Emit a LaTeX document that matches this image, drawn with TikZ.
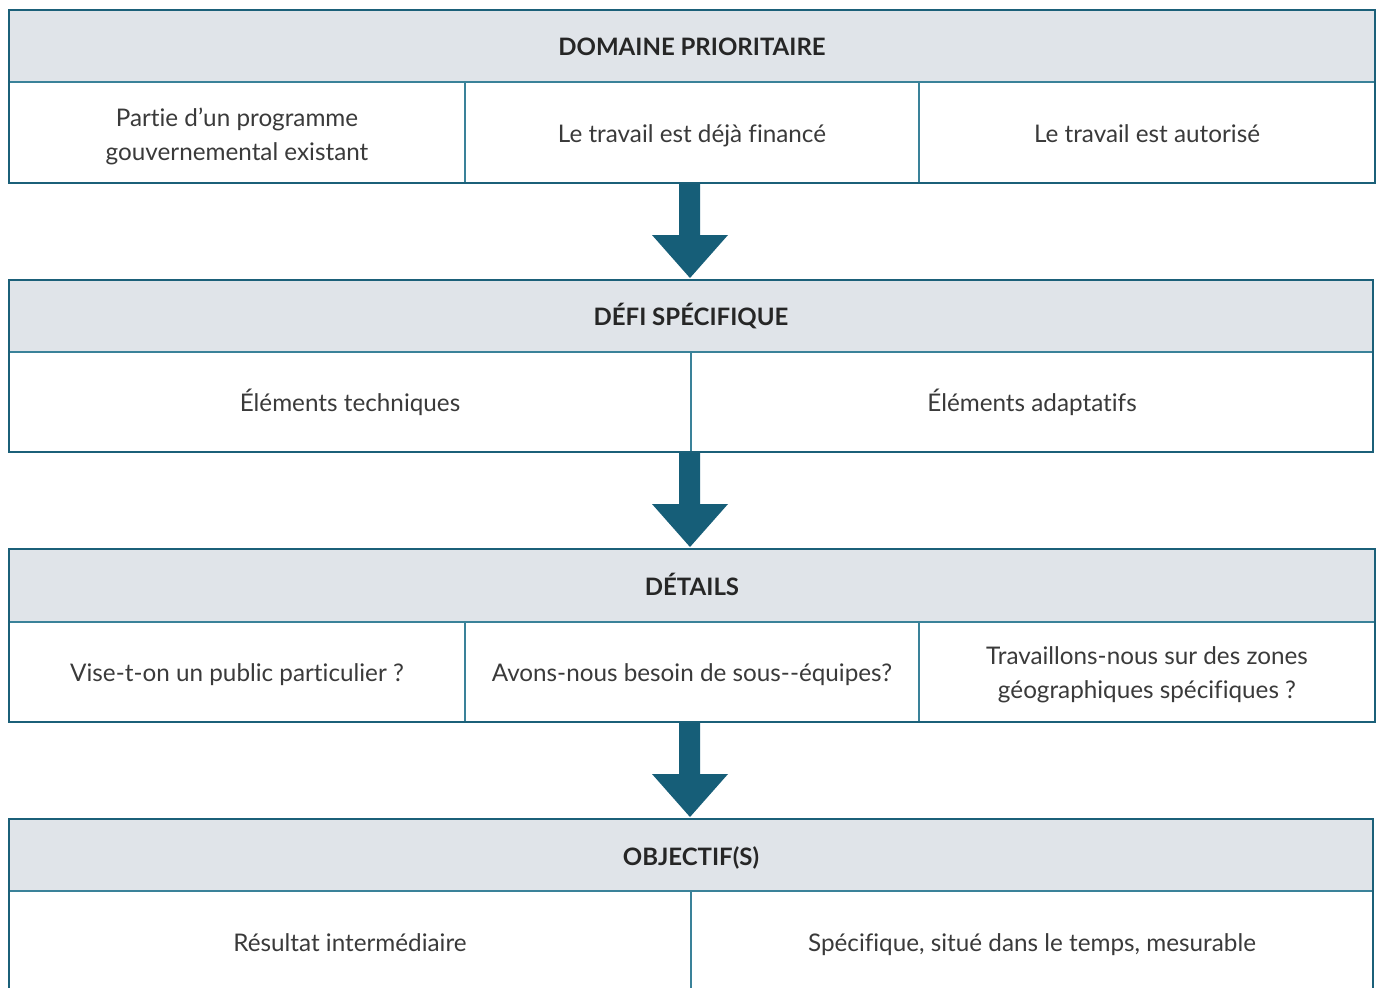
\documentclass[tikz,border=0pt]{standalone}
\usepackage{fontspec}
\setmainfont[RawFeature={-liga}]{Lato}
\definecolor{frame}{HTML}{1B6079}
\definecolor{rule}{HTML}{3A8299}
\definecolor{head}{HTML}{E0E4E9}
\definecolor{arrowc}{HTML}{165E78}
\definecolor{txt}{HTML}{3A3A3A}
\begin{document}
\begin{tikzpicture}[x=0.75pt,y=-0.75pt,
  headtext/.style={font=\fontsize{18}{22}\selectfont\bfseries, text=black!85, text height=1.3ex, text depth=0.25ex},
  celltext/.style={font=\fontsize{18.2}{25.5}\selectfont, text=txt, align=center},
  onel/.style={celltext, text height=1.45ex, text depth=0.45ex},
  outer/.style={draw=frame, line width=2.2pt},
  inner/.style={draw=rule, line width=0.8pt},
  bigarrow/.style={fill=arrowc, draw=none}]
\useasboundingbox (0,0) rectangle (1377,988);
\fill[white] (0,0) rectangle (1377,988);

% ---- Box 1
\fill[head] (9,10) rectangle (1375,82);
\draw[inner] (9,82) -- (1375,82);
\draw[inner] (465,82) -- (465,183);
\draw[inner] (919,82) -- (919,183);
\draw[outer] (9,10) rectangle (1375,183);
\node[headtext] (h1) at (692,52) {DOMAINE PRIORITAIRE};
\node[celltext] (c11) at (237,136) {Partie d’un programme\\gouvernemental existant};
\node[onel] (c12) at (692,139) {Le travail est déjà financé};
\node[onel] (c13) at (1147,139) {Le travail est autorisé};

% ---- Arrow 1
\fill[bigarrow] (679,184) -- (700,184) -- (700,235) -- (728,235) -- (690,278) -- (652,235) -- (679,235) -- cycle;

% ---- Box 2
\fill[head] (9,280) rectangle (1373,352);
\draw[inner] (9,352) -- (1373,352);
\draw[inner] (691,352) -- (691,452);
\draw[outer] (9,280) rectangle (1373,452);
\node[headtext] (h2) at (691,322) {DÉFI SPÉCIFIQUE};
\node[onel] (c21) at (350,408) {Éléments techniques};
\node[onel] (c22) at (1032,408) {Éléments adaptatifs};

% ---- Arrow 2
\fill[bigarrow] (679,453) -- (700,453) -- (700,504) -- (728,504) -- (690,547) -- (652,504) -- (679,504) -- cycle;

% ---- Box 3
\fill[head] (9,549) rectangle (1375,622);
\draw[inner] (9,622) -- (1375,622);
\draw[inner] (465,622) -- (465,722);
\draw[inner] (919,622) -- (919,722);
\draw[outer] (9,549) rectangle (1375,722);
\node[headtext] (h3) at (692,592) {DÉTAILS};
\node[onel] (c31) at (237,678) {Vise-t-on un public particulier ?};
\node[onel] (c32) at (692,678) {Avons-nous besoin de sous-{}-équipes?};
\node[celltext] (c33) at (1147,675) {Travaillons-nous sur des zones\\géographiques spécifiques ?};

% ---- Arrow 3
\fill[bigarrow] (679,723) -- (700,723) -- (700,774) -- (728,774) -- (690,817) -- (652,774) -- (679,774) -- cycle;

% ---- Box 4 (open at bottom)
\fill[head] (9,819) rectangle (1373,891);
\draw[inner] (9,891) -- (1373,891);
\draw[inner] (691,891) -- (691,990);
\draw[outer] (9,995) -- (9,819) -- (1373,819) -- (1373,995);
\node[headtext] (h4) at (691,862) {OBJECTIF(S)};
\node[onel] (c41) at (350,948) {Résultat intermédiaire};
\node[onel] (c42) at (1032,948) {Spécifique, situé dans le temps, mesurable};
\end{tikzpicture}
\end{document}
